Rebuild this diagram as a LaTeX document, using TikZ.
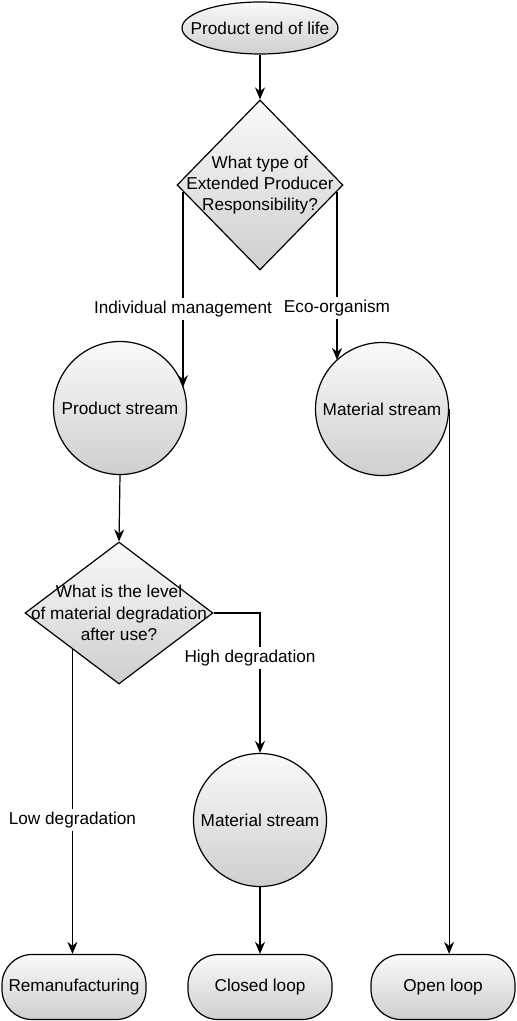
\documentclass[tikz,border=0pt]{standalone}
\usepackage{fontspec}
\setmainfont{Liberation Sans}
\usetikzlibrary{shapes.geometric, arrows.meta}

\tikzset{
  box/.style={draw, line width=.6pt, top color=gray!4, bottom color=gray!38},
  terminal/.style={box, ellipse, inner sep=0pt},
  decision/.style={box, diamond, inner sep=0pt},
  stream/.style={box, circle, minimum size=66.5pt, inner sep=0pt},
  endbox/.style={box, rectangle, rounded corners=15pt, minimum width=72pt, minimum height=32.5pt, inner sep=1pt},
  arrow/.style={-{Stealth[length=6pt, width=5pt]}, line width=.6pt},
  lbl/.style={fill=white, inner sep=1.5pt}
}

\begin{document}
\begin{tikzpicture}[x=.5pt, y=-.5pt, font=\fontsize{8.6}{10.6}\selectfont]
    \useasboundingbox (0,0) rectangle (516,1021);

    \node[terminal, minimum width=78pt, minimum height=26pt, label=center:Product end of life] (eol) at (260,28) {};
    \node[decision, minimum width=83pt, minimum height=85pt,
          label={[align=center]center:What type of\\Extended Producer\\Responsibility?}] (epr) at (260,185) {};
    \node[stream] (ps) at (120,408) {Product stream};
    \node[stream] (ms1) at (382,409) {Material stream};
    \node[decision, minimum width=94pt, minimum height=71pt,
          label={[align=center]center:What is the level\\of material degradation\\after use?}] (deg) at (119,613) {};
    \node[stream] (ms2) at (260,820) {Material stream};
    \node[endbox] (rem) at (74,987) {Remanufacturing};
    \node[endbox] (cl) at (260,987) {Closed loop};
    \node[endbox] (ol) at (443,987) {Open loop};

    \draw[arrow] (eol.south) -- (epr.north);
    \draw[arrow] (epr.185) -- (epr.185 |- ps.18) node[lbl, pos=.6] {Individual management};
    \draw[arrow] (epr.-5) -- (epr.-5 |- ms1.133) node[lbl, pos=.69] {Eco-organism};
    \draw[arrow] (ms1.east) -- (ms1.east |- ol.north);
    \draw[arrow] (ps.south) -- (deg.north);
    \draw[arrow] (deg.east) -| (ms2.north) node[lbl, pos=.66, xshift=-5pt] {High degradation};
    \draw[arrow] (deg.218) -- (deg.218 |- rem.north) node[lbl, pos=.56] {Low degradation};
    \draw[arrow] (ms2.south) -- (cl.north);
\end{tikzpicture}
\end{document}
